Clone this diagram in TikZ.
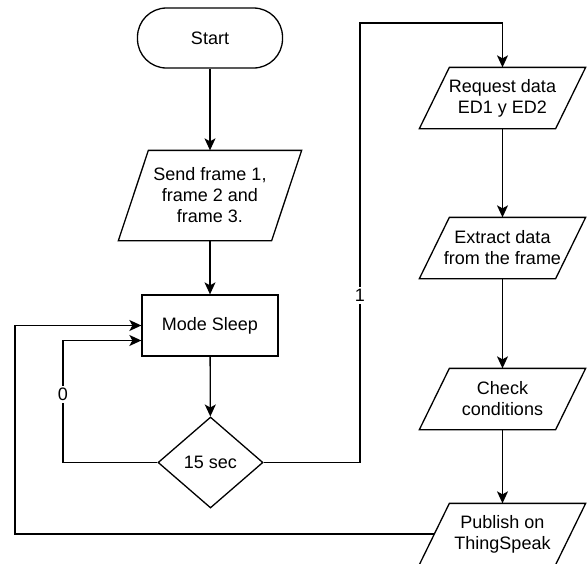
\documentclass[tikz,border=0pt]{standalone}
\usepackage{fontspec}
\setmainfont{Liberation Sans}
\usetikzlibrary{shapes.geometric, arrows.meta, positioning}

\begin{document}
\begin{tikzpicture}[x=1pt, y=-1pt, line width=1.3pt,
  base/.style={font=\fontsize{18}{21}\selectfont, align=center, inner sep=0pt},
  terminal/.style={base, draw, rounded corners=29pt, minimum width=145pt, minimum height=60pt},
  process/.style={base, draw, minimum width=136pt, minimum height=61pt},
  decision/.style={base, draw, diamond, minimum width=105pt, minimum height=91pt, aspect=1.15},
  iobox/.style={base, minimum width=135pt, minimum height=60pt},
  flow/.style={-{Stealth[length=12pt, width=11pt, inset=3pt]}},
  lbl/.style={base, fill=white, inner sep=2pt},
]
  \useasboundingbox (0,0) rectangle (587,563);

  % Left column
  \node[terminal] (start) at (210,38) {Start};
  \node[iobox, minimum width=152pt, minimum height=89pt] (send) at (210,195.5)
    {Send frame 1,\\frame 2 and\\frame 3.};
  \node[process] (sleep) at (210,325.5) {Mode Sleep};
  \node[decision] (wait) at (210.5,462.5) {15 sec};

  % Right column
  \node[iobox] (request) at (502.5,98) {Request data\\ED1 y ED2};
  \node[iobox] (extract) at (502.5,248) {Extract data\\from the frame};
  \node[iobox] (check) at (502.5,399) {Check\\conditions};
  \node[iobox] (publish) at (502.5,534) {Publish on\\ThingSpeak};

  % Data boxes
  \foreach \n in {send, request, extract, check, publish} {
    \draw ([xshift=15pt]\n.north west) -- ([xshift=15pt]\n.north east)
      -- ([xshift=-15pt]\n.south east) -- ([xshift=-15pt]\n.south west) -- cycle;
  }

  % Bends
  \coordinate (zero) at (63,462.5);
  \coordinate (one) at (360,23);
  \coordinate (back) at (15,534);

  % Main flow
  \draw[flow] (start) -- (send);
  \draw[flow] (send) -- (sleep);
  \draw[flow] (sleep) -- (wait);
  \draw[flow] (request) -- (extract);
  \draw[flow] (extract) -- (check);
  \draw[flow] (check) -- (publish);

  % Loops
  \draw[flow] (wait.west) -- (zero) |- node[lbl, pos=0.28] {0} ([yshift=-15pt]sleep.west);
  \draw[flow] (wait.east) -| node[lbl, pos=0.69] {1} (one) -| (request.north);
  \draw[flow] (publish.west) -- (back) |- (sleep.west);
\end{tikzpicture}
\end{document}
